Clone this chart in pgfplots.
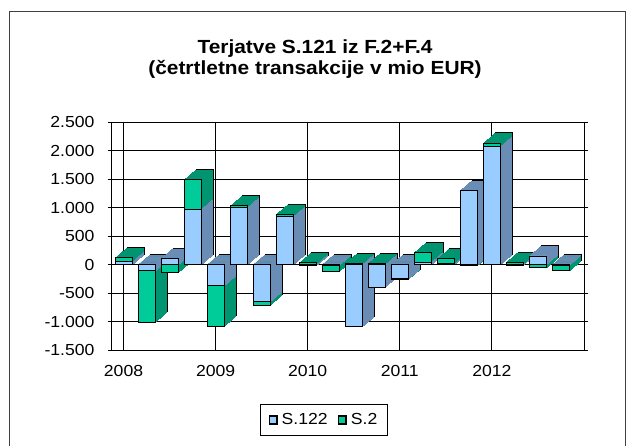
\documentclass[border=0pt]{standalone}
\usepackage{fontspec}
\setmainfont{Liberation Sans}[FakeStretch=1.1]
\usepackage{pgfplots}
\pgfplotsset{compat=1.18}
\usepackage{pgfplotstable}
\definecolor{bfront}{HTML}{99CCFF}
\definecolor{bside}{HTML}{6A8DB5}
\definecolor{gfront}{HTML}{00CC99}
\definecolor{gside}{HTML}{009470}

\pgfplotstableread{
q S122 S2
0 50 70
1 -110 -900
2 110 -140
3 970 520
4 -370 -710
5 1000 30
6 -650 -60
7 840 40
8 -20 30
9 -10 -110
10 -1090 20
11 -395 20
12 -250 -10
13 40 170
14 10 90
15 1300 -20
16 2070 60
17 -10 40
18 150 -60
19 -10 -100
}\datatable

\pgfplotsset{
  base/.style={scale only axis, width=472pt, height=228pt,
    xmin=-0.5, xmax=20, ymin=-1500, ymax=2500, anchor=south west},
  bars/.style={ybar, bar width=17pt, bar shift=0pt},
  /pgfplots/table/gexpr/.style={y expr={((\thisrow{S122}>0 && \thisrow{S2}>0) || (\thisrow{S122}<0 && \thisrow{S2}<0)) ? (\thisrow{S122}+\thisrow{S2}) : \thisrow{S2}}},
}

\begin{document}
\begin{tikzpicture}[x=1pt,y=1pt]
\useasboundingbox (0pt,0pt) rectangle (627pt,445pt);
\draw[line width=1pt, black!75] (9pt,-5pt) -- (9pt,433pt) -- (625pt,433pt) -- (625pt,-5pt);
\node[anchor=base, font=\fontsize{19}{21}\selectfont\bfseries] at (315pt,391pt) {Terjatve S.121 iz F.2+F.4};
\node[anchor=base, font=\fontsize{19}{21}\selectfont\bfseries] at (315pt,370pt) {(četrtletne transakcije v mio EUR)};

% background axis with grid, ticks, labels, legend
\begin{axis}[base, at={(112pt,95pt)},
  axis line style={black, line width=1pt},
  grid=major, grid style={black, line width=0.9pt},
  ytick={-1500,-1000,...,2500},
  xtick={0,4,8,12,16}, xticklabels={2008,2009,2010,2011,2012},
  major x tick style={draw=none},
  tick align=outside, major tick length=4pt,
  major y tick style={black, line width=0.9pt},
  tick label style={font=\fontsize{16}{19}\selectfont},
  yticklabel style={xshift=-10pt},
  xticklabel style={yshift=-8pt},
  /pgf/number format/.cd, 1000 sep={.}, assume math mode=true,
  /pgfplots/.cd,
  legend style={at={(0.449,-0.307)}, anchor=center, draw=black, line width=0.8pt,
    font=\fontsize{16}{19}\selectfont, legend columns=2,
    /tikz/every even column/.append style={column sep=8pt},
    inner xsep=8pt, inner ysep=7pt},
]
\addlegendimage{legend image code/.code={\draw[fill=bfront, line width=1.5pt] (0pt,-3.8pt) rectangle (7.6pt,3.8pt); \path (10pt,0pt);}}
\addlegendentry{S.122}
\addlegendimage{legend image code/.code={\draw[fill=gfront, line width=1.5pt] (0pt,-3.8pt) rectangle (7.6pt,3.8pt); \path (10pt,0pt);}}
\addlegendentry{S.2}
\end{axis}

% extruded depth of the bars
\foreach \k in {12,11,...,1}{
\begin{axis}[base, bars, hide axis, clip=false, at={({112pt+\k pt},{95pt+0.85*\k pt})}]
\ifnum\k=12
\addplot[fill=gside, draw=black, line width=0.9pt] table[x=q, gexpr] {\datatable};
\addplot[fill=bside, draw=black, line width=0.9pt] table[x=q, y=S122] {\datatable};
\else
\addplot[fill=gside, draw=gside, line width=0.6pt] table[x=q, gexpr] {\datatable};
\addplot[fill=bside, draw=bside, line width=0.6pt] table[x=q, y=S122] {\datatable};
\fi
\end{axis}
}

% front faces
\begin{axis}[base, bars, hide axis, clip=false, at={(112pt,95pt)}]
\addplot[fill=gfront, draw=black, line width=0.9pt] table[x=q, gexpr] {\datatable};
\addplot[fill=bfront, draw=black, line width=0.9pt] table[x=q, y=S122] {\datatable};
\end{axis}
\end{tikzpicture}
\end{document}
